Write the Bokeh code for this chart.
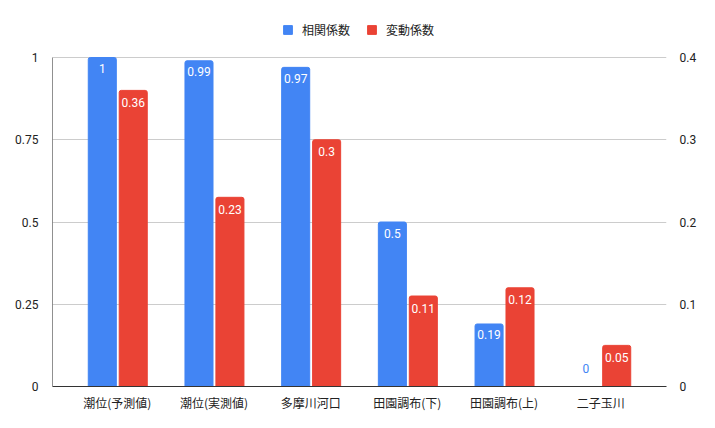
from bokeh.plotting import figure
from bokeh.models import (ColumnDataSource, Range1d, LinearAxis, FixedTicker,
                          Legend, LegendItem)
from bokeh.transform import dodge
from bokeh.core.properties import value
from bokeh.embed import file_html
from bokeh.resources import INLINE

categories = ["潮位(予測値)", "潮位(実測値)", "多摩川河口", "田園調布(下)", "田園調布(上)", "二子玉川"]
corr = [1, 0.99, 0.97, 0.5, 0.19, 0]
cv = [0.36, 0.23, 0.3, 0.11, 0.12, 0.05]
left_ticks = [0, 0.25, 0.5, 0.75, 1]
left_labels = ["0", "0.25", "0.5", "0.75", "1"]
right_ticks = [0, 0.1, 0.2, 0.3, 0.4]
right_labels = ["0", "0.1", "0.2", "0.3", "0.4"]

BLUE = "#4285F4"
RED = "#EA4335"
FONT = "Roboto"
JFONT = "Noto Sans CJK JP"

xs = list(range(len(categories)))

def lbl(v):
    return ("%g" % v)

src = ColumnDataSource(dict(
    x=xs, corr=corr, cv=cv,
    corr_lbl=[lbl(v) for v in corr],
    cv_lbl=[lbl(v) for v in cv],
    corr_col=["white" if v > 0 else BLUE for v in corr],
    cv_col=["white" if v > 0 else RED for v in cv],
    corr_off=[11 if v > 0 else -18 for v in corr],
    cv_off=[12 if v > 0 else -18 for v in cv],
))

# frame extends above the chart area to hold the legend; 1.0 sits 52px below frame top
TOP_EXT = 1 + 52 / 329
p = figure(width=699, height=420, output_backend="svg", toolbar_location=None,
           x_range=Range1d(-0.67, 5.68), y_range=Range1d(0, TOP_EXT),
           min_border_left=52, min_border_right=31, min_border_top=5,
           min_border_bottom=34)
p.outline_line_color = None
p.extra_y_ranges = {"right": Range1d(0, right_ticks[-1] * TOP_EXT)}

b1 = p.vbar(x=dodge("x", -0.155, range=p.x_range), top="corr", width=0.29,
            source=src, color=BLUE, border_radius=(2, 2, 0, 0))
b2 = p.vbar(x=dodge("x", 0.165, range=p.x_range), top="cv", width=0.29,
            source=src, color=RED, y_range_name="right", border_radius=(2, 2, 0, 0))

p.text(x=dodge("x", -0.155, range=p.x_range), y="corr", text="corr_lbl", source=src,
       text_color="corr_col", y_offset="corr_off", text_align="center",
       text_baseline="middle", text_font=value(FONT), text_font_size="12px")
p.text(x=dodge("x", 0.165, range=p.x_range), y="cv", text="cv_lbl", source=src,
       text_color="cv_col", y_offset="cv_off", text_align="center",
       text_baseline="middle", text_font=value(FONT), text_font_size="12px",
       y_range_name="right")

# left axis line only over the value span
p.segment(x0=[p.x_range.start], y0=[left_ticks[0]], x1=[p.x_range.start],
          y1=[left_ticks[-1]], line_color="#222222", line_width=1)

# axes
p.xaxis.ticker = FixedTicker(ticks=xs)
p.xaxis.major_label_overrides = {i: c for i, c in zip(xs, categories)}
p.xaxis.major_label_text_font = JFONT
p.xaxis.major_label_text_font_size = "12px"
p.xaxis.major_label_text_color = "#222222"
p.xaxis.major_tick_line_color = None
p.xaxis.minor_tick_line_color = None
p.xaxis.axis_line_color = "#333333"
p.xaxis.major_label_standoff = 1

p.yaxis.ticker = FixedTicker(ticks=left_ticks)
p.yaxis.major_label_overrides = {t: l for t, l in zip(left_ticks, left_labels)}
p.yaxis.major_label_text_font = FONT
p.yaxis.major_label_text_font_size = "12px"
p.yaxis.major_label_text_color = "#222222"
p.yaxis.major_tick_line_color = None
p.yaxis.minor_tick_line_color = None
p.yaxis.axis_line_color = None
p.yaxis.major_label_standoff = 8

ra = LinearAxis(y_range_name="right", ticker=FixedTicker(ticks=right_ticks))
ra.major_label_overrides = {t: l for t, l in zip(right_ticks, right_labels)}
ra.major_label_text_font = FONT
ra.major_label_text_font_size = "12px"
ra.major_label_text_color = "#222222"
ra.major_tick_line_color = None
ra.minor_tick_line_color = None
ra.axis_line_color = None
ra.major_label_standoff = 7
p.add_layout(ra, "right")

p.xgrid.grid_line_color = None
p.ygrid.ticker = FixedTicker(ticks=left_ticks[1:])
p.ygrid.grid_line_color = "#cccccc"

legend = Legend(items=[LegendItem(label="相関係数", renderers=[b1]),
                       LegendItem(label="変動係数", renderers=[b2])],
                orientation="horizontal", location=(230, 348),
                label_text_font=JFONT, label_text_font_size="12px",
                label_text_color="#222222", glyph_width=11, glyph_height=11,
                spacing=16, label_standoff=9, background_fill_alpha=0,
                border_line_color=None, padding=0, margin=0)
p.add_layout(legend, "center")

open("out.html", "w").write(file_html(p, INLINE))
